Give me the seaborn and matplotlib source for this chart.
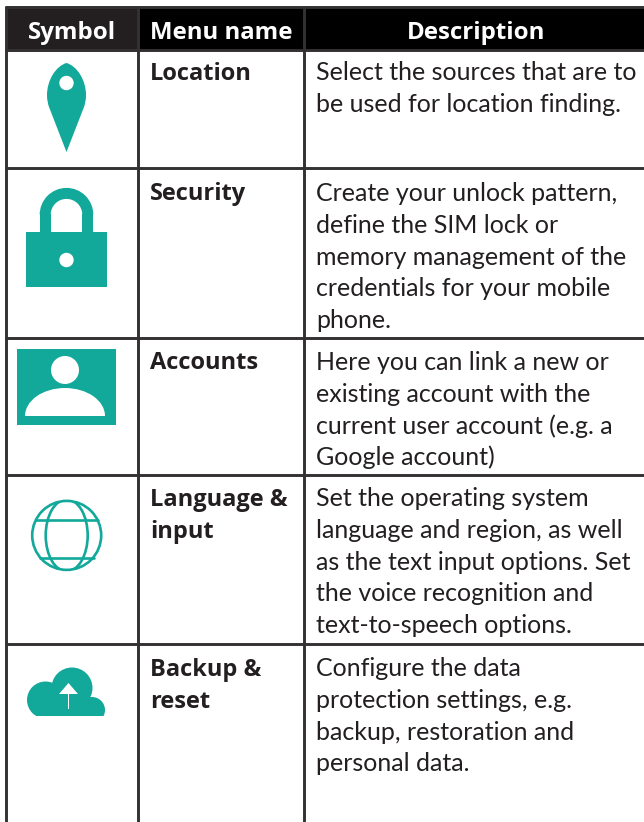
import numpy as np
import pandas as pd
import matplotlib
matplotlib.use('Agg')
import matplotlib.pyplot as plt
from matplotlib.patches import Circle, Rectangle, Polygon, PathPatch, Wedge, Ellipse
from matplotlib.path import Path
import seaborn as sns

headers = ['Symbol', 'Menu name', 'Description']
menu_names = ['Location', 'Security', 'Accounts', 'Language &\ninput', 'Backup &\nreset']
descriptions = [
    ['Select the sources that are to', 'be used for location finding.'],
    ['Create your unlock pattern,', 'define the SIM lock or', 'memory management of the', 'credentials for your mobile', 'phone.'],
    ['Here you can link a new or', 'existing account with the', 'current user account (e.g. a', 'Google account)'],
    ['Set the operating system', 'language and region, as well', 'as the text input options. Set', 'the voice recognition and', 'text-to-speech options.'],
    ['Configure the data', 'protection settings, e.g.', 'backup, restoration and', 'personal data.'],
]
col_edges = [6.5, 138.5, 304.5]
row_edges = [7, 50, 168, 338, 475, 644]
baselines = [80, 200, 369, 506, 676]
desc_baselines = [80, 201, 370, 506, 676]

TEAL = '#12a89a'
INK = '#231f20'

sns.set_theme(style='white')
plt.rcParams['font.family'] = ['Open Sans', 'DejaVu Sans']

fig = plt.figure(figsize=(6.44, 8.22), dpi=100)
ax = fig.add_axes([0, 0, 1, 1])

# header band
ax.add_patch(Rectangle((6, 7), 638, 43, color='black', zorder=1))
ax.add_patch(Rectangle((6, 7), 132, 43, color=INK, zorder=1))

# table rules
rules = []
for i, x in enumerate(col_edges):
    rules += [{'rule': f'v{i}', 'x': x, 'y': 7}, {'rule': f'v{i}', 'x': x, 'y': 822}]
for i, y in enumerate(row_edges):
    rules += [{'rule': f'h{i}', 'x': 6, 'y': y}, {'rule': f'h{i}', 'x': 644, 'y': y}]
sns.lineplot(data=pd.DataFrame(rules), x='x', y='y', units='rule', estimator=None,
             color='#333132', lw=2.1, sort=False, legend=False, ax=ax, zorder=2)
ax.set_xlim(0, 644)
ax.set_ylim(822, 0)
ax.axis('off')

# header text
for name, cx in zip(headers, [72, 221, 476]):
    ax.text(cx, 39, name, color='white', fontsize=17.3, fontweight='bold', ha='center', zorder=3)

# row text
for name, base in zip(menu_names, baselines):
    for j, part in enumerate(name.split('\n')):
        ax.text(150, base + j * 31.5, part, color=INK, fontsize=17, fontweight='bold', zorder=3)
for lines, base in zip(descriptions, desc_baselines):
    for j, part in enumerate(lines):
        ax.text(316, base + j * 31.8, part, color=INK, fontsize=18, family=['Lato', 'DejaVu Sans'], zorder=3)


def add(p):
    p.set_zorder(3)
    ax.add_patch(p)
    return p


# location pin
pin = Path([(66.5, 63), (56, 66), (47, 80), (47, 95), (47, 100), (48, 104), (49, 107), (66.5, 152),
            (84, 107), (85, 104), (86, 100), (86, 95), (86, 80), (77, 66), (66.5, 63)],
           [1, 4, 4, 4, 4, 4, 4, 2, 2, 4, 4, 4, 4, 4, 4])
add(PathPatch(pin, fc=TEAL, ec='none'))
add(Circle((66.5, 83), 7.2, fc='white', ec='none'))

# padlock
add(Rectangle((26, 232), 81, 54.5, fc=TEAL, ec='none'))
add(Wedge((66.5, 214.7), 26.8, 180, 360, width=11, fc=TEAL, ec='none'))
add(Rectangle((39.7, 213.7), 11, 19, fc=TEAL, ec='none'))
add(Rectangle((82.3, 213.7), 11, 19, fc=TEAL, ec='none'))
add(Circle((66.5, 260), 7.2, fc='white', ec='none'))

# account card
add(Rectangle((17, 349), 99, 76, fc=TEAL, ec='none'))
add(Circle((65, 370), 14, fc='white', ec='none'))
add(Ellipse((65, 416), 80, 56, fc='white', ec='none'))
add(Rectangle((17, 416.3), 99, 8.7, fc=TEAL, ec='none'))

# globe
outline = add(Circle((66.7, 535.4), 34.5, fc='none', ec=TEAL, lw=1.9))
meridians = add(Ellipse((66.7, 535.4), 42, 72, fc='none', ec=TEAL, lw=1.9))
meridians.set_clip_path(Circle((66.7, 535.4), 34.5, transform=ax.transData))
for y, half in [(520, 31), (557.7, 27)]:
    ax.plot([66.7 - half, 66.7 + half], [y, y], color=TEAL, lw=1.9, zorder=3)

# cloud
add(Circle((72, 688), 20.5, fc=TEAL, ec='none'))
add(Circle((45.5, 700), 18.5, fc=TEAL, ec='none'))
add(Circle((92, 710), 13, fc=TEAL, ec='none'))
add(Rectangle((40, 698), 50, 18, fc=TEAL, ec='none'))
add(Rectangle((20, 715.7), 100, 30, fc='white', ec='none'))
add(Polygon([(59, 694), (68.5, 683), (78, 694)], fc='white', ec='none'))
add(Rectangle((67.7, 693), 1.5, 16, fc='white', ec='none'))

fig.savefig('out.png', dpi=100)
